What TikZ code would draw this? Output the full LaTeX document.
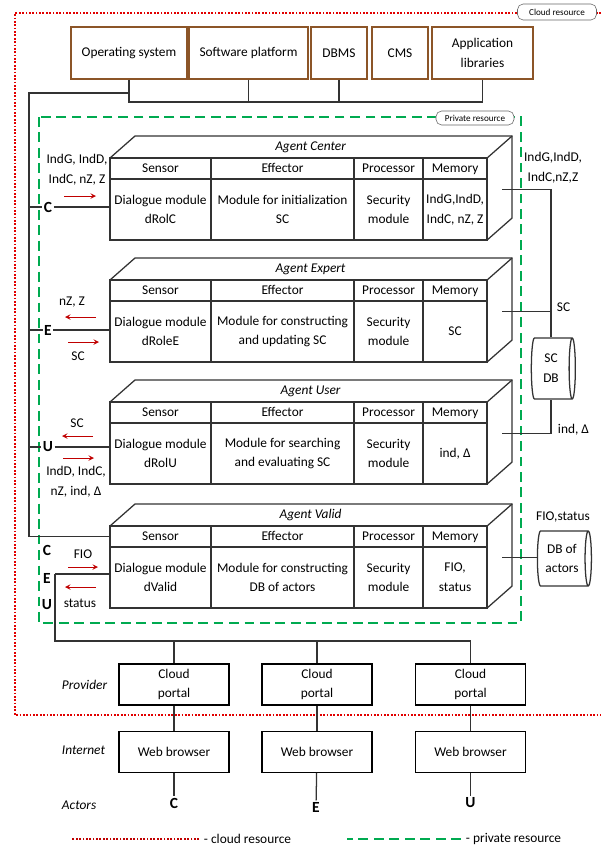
\documentclass[tikz,border=0pt]{standalone}
\usepackage{fontspec}
\setmainfont{Carlito}
\usepackage{tikz}
\usetikzlibrary{shapes.geometric, arrows, positioning, calc}
\definecolor{cloudred}{RGB}{225,0,0}
\definecolor{privgreen}{RGB}{0,170,80}
\definecolor{boxbrown}{RGB}{140,85,40}
\definecolor{arrowred}{RGB}{192,0,0}
\newcommand{\basefont}{\fontsize{9.5}{14}\selectfont}
\tikzstyle{soft} = [rectangle, minimum height=1.3cm, text centered, align=center, draw=boxbrown, line width=0.9pt, inner sep=1pt]
\tikzstyle{hcell} = [rectangle, minimum height=0.525cm, text height=7pt, text depth=2pt, inner sep=1pt, outer sep=0pt, draw=black!80, line width=0.9pt]
\tikzstyle{bcell} = [rectangle, minimum height=1.525cm, align=center, inner sep=1pt, outer sep=0pt, draw=black!80, line width=0.9pt]
\tikzstyle{portal} = [rectangle, minimum width=2.75cm, minimum height=1.025cm, align=center, draw=black, line width=0.9pt]
\tikzstyle{actor} = [font=\fontsize{11}{13}\selectfont\bfseries, inner sep=1pt]
\tikzstyle{rowname} = [anchor=west, font=\basefont\itshape]
\tikzstyle{restag} = [rectangle, rounded corners=4pt, draw=black!60, fill=white, font=\fontsize{6.5}{7}\selectfont, inner sep=1.5pt]
\tikzstyle{arrow} = [->, >=stealth, draw=arrowred, line width=0.7pt]
\tikzstyle{wire} = [draw=black!80, line width=0.9pt]
\tikzstyle{cloudframe} = [draw=cloudred, line width=1.2pt, dash pattern=on 1.2pt off 1.2pt]
\tikzstyle{privframe} = [draw=privgreen, line width=1.3pt, dash pattern=on 7pt off 4pt]
\tikzstyle{db} = [cylinder, aspect=0.2, draw=black!80, line width=0.9pt, align=center, inner sep=1pt]
% one agent: prefix, top y, title, sensor, effector, memory
\newcommand{\agentbox}[6]{%
  \node[hcell, minimum width=2.525cm, anchor=north west] (#1sen) at (110,#2) {Sensor};
  \node[hcell, minimum width=3.575cm, right=0pt of #1sen] (#1eff) {Effector};
  \node[hcell, minimum width=1.725cm, right=0pt of #1eff] (#1pro) {Processor};
  \node[hcell, minimum width=1.6cm, right=0pt of #1pro] (#1mem) {Memory};
  \node[bcell, minimum width=2.525cm, below=0pt of #1sen] (#1sen2) {#4};
  \node[bcell, minimum width=3.575cm, below=0pt of #1eff] (#1eff2) {#5};
  \node[bcell, minimum width=1.725cm, below=0pt of #1pro] (#1pro2) {Security\\module};
  \node[bcell, minimum width=1.6cm, below=0pt of #1mem] (#1mem2) {#6};
  \draw[wire] (#1sen.north west) -- ++(25,-22) -- ($(#1mem.north east)+(25,-22)$) -- ($(#1mem2.south east)+(25,-22)$) -- (#1mem2.south east);
  \draw[wire] ($(#1mem.north east)+(25,-22)$) -- (#1mem.north east);
  \node[font=\basefont\itshape] (#1title) at ($(#1sen.north west)!0.5!(#1mem.north east)+(12,-11)$) {#3};
  \coordinate (#1port) at ($(#1mem2.east)+(15,-20)$);
}

\begin{document}
\begin{tikzpicture}[x=0.025cm, y=-0.025cm, font=\basefont]
    \useasboundingbox (0,0) rectangle (601,848);
    % resource frames
    \draw[cloudframe] (601,13) -- (15,13) -- (15,715) -- (601,715);
    \draw[privframe] (39,117) rectangle (521,623);
    \node (cloudtag) [restag, minimum width=1.975cm, minimum height=0.4cm] at (557,12) {Cloud resource};
    \node (privtag) [restag, minimum width=1.95cm, minimum height=0.35cm] at (475,118) {Private resource};

    % software of the cloud
    \node (os) [soft, minimum width=2.9cm] at (129,53) {Operating system};
    \node (sp) [soft, minimum width=2.975cm] at (248.5,53) {Software platform};
    \node (dbms) [soft, minimum width=1.4cm] at (339,53) {DBMS};
    \node (cms) [soft, minimum width=1.4cm] at (400,53) {CMS};
    \node (app) [soft, minimum width=2.525cm] at (482.5,53) {Application\\libraries};
    \coordinate (bus) at (0,102);
    \draw[wire] (os.south) -- (os.south |- bus) -- (app.south |- bus) -- (app.south);
    \draw[wire] (sp.south) -- (sp.south |- bus);
    \draw[wire] (dbms.south) -- (dbms.south |- bus);

    % agents
    \agentbox{ac}{158}{Agent Center}{Dialogue module\\dRolC}{Module for initialization\\SC}{IndG,IndD,\\IndC, nZ, Z}
    \agentbox{ae}{280}{Agent Expert}{Dialogue module\\dRoleE}{Module for constructing\\and updating SC}{SC}
    \agentbox{au}{402}{Agent User}{Dialogue module\\dRolU}{Module for searching\\and evaluating SC}{ind, Δ}
    \agentbox{av}{526}{Agent Valid}{Dialogue module\\dValid}{Module for constructing\\DB of actors}{FIO,\\status}

    % left side: roles
    \coordinate (lft) at (29,93);
    \draw[wire] (os.south |- lft) -- (lft) |- (avsen.west);
    \node (lc) [actor] at (48,207) {C};
    \node (le) [actor] at (48,330) {E};
    \node (lu) [actor] at (48,447) {U};
    \draw[wire] (lft |- lc) -- (lc) -- (lc -| acsen2.west);
    \draw[wire] (lft |- le) -- (le) -- (le -| aesen2.west);
    \draw[wire] (lft |- lu) -- (lu) -- (lu -| ausen2.west);
    \node (inc) [align=center] at ($(lc)+(29,-37)$) {IndG, IndD,\\IndC, nZ, Z};
    \draw[arrow] ($(lc)+(16,-11)$) -- ++(32,0);
    \node (oute) at ($(le)+(24,-28)$) {nZ, Z};
    \draw[arrow] ($(le)+(48,-13)$) -- ++(-31,0);
    \draw[arrow] ($(le)+(20,12)$) -- ++(31,0);
    \node (ine) at ($(le)+(30,26)$) {SC};
    \node (outu) at ($(lu)+(29,-24)$) {SC};
    \draw[arrow] ($(lu)+(45,-11)$) -- ++(-31,0);
    \draw[arrow] ($(lu)+(15,11)$) -- ++(31,0);
    \node (inu) [align=center] at ($(lu)+(28,35)$) {IndD, IndC,\\nZ, ind, Δ};

    % left side: valid
    \node (vc) [actor] at (47,550) {C};
    \node (ve) [actor] at (47,578) {E};
    \node (vu) [actor] at (47,605) {U};
    \coordinate (vj) at (55,574);
    \draw[wire] (vj) -- (vj -| avsen2.west);
    \node (inv) at ($(vj)+(28,-20)$) {FIO};
    \draw[arrow] ($(vj)+(13,-7)$) -- ++(30,0);
    \draw[arrow] ($(vj)+(41,13)$) -- ++(-31,0);
    \node (outv) at ($(vj)+(25,29)$) {status};

    % right side: data bases
    \node (scdb) [db, minimum width=1.525cm, minimum height=1.1cm] at (551,368.5) {SC\\DB};
    \node (actdb) [db, minimum width=1.375cm, minimum height=1.35cm] at (562,558.5) {DB of\\actors};
    \draw[wire] (acport) -| (scdb.north);
    \draw[wire] (aeport) -- (aeport -| scdb.north);
    \draw[wire] (auport) -| (scdb.south);
    \draw[wire] (avport) -- (avport -| actdb.west);
    \node (lbc) [align=center] at (553,168) {IndG,IndD,\\IndC,nZ,Z};
    \node (lbe) [anchor=west] at (552,307) {SC};
    \node (lbu) [anchor=west] at (553,430) {ind, Δ};
    \node (lbv) at (563,517) {FIO,status};

    % provider, internet, actors
    \node (p1) [portal] at (174,684.5) {Cloud\\portal};
    \node (p2) [portal] at (317,684.5) {Cloud\\portal};
    \node (p3) [portal] at (470.5,684.5) {Cloud\\portal};
    \coordinate (bot) at (0,641);
    \draw[wire] (vj) |- (p3.north |- bot) -- (p3.north);
    \draw[wire] (p1.north |- bot) -- (p1.north);
    \draw[wire] (p2.north |- bot) -- (p2.north);
    \node (w1) [portal, below=0.625cm of p1] {Web browser};
    \node (w2) [portal, below=0.625cm of p2] {Web browser};
    \node (w3) [portal, below=0.625cm of p3] {Web browser};
    \node (xc) [actor] at (174,803) {C};
    \node (xe) [actor] at (316,807) {E};
    \node (xu) [actor] at (470.5,803) {U};
    \draw[wire] (p1) -- (w1);
    \draw[wire] (p2) -- (w2);
    \draw[wire] (p3) -- (w3);
    \draw[wire] (w1) -- (xc);
    \draw[wire] (w2) -- (xe);
    \draw[wire] (w3) -- (xu);
    \node (prov) [rowname] at (57,685) {Provider};
    \node (inet) [rowname] at (57,750) {Internet};
    \node (acts) [rowname] at (57,805) {Actors};

    % legend
    \node (lgc) [anchor=west] at (199,839) {- cloud resource};
    \draw[cloudframe, draw=arrowred] (lgc.west) -- ++(-128,0);
    \node (lgp) [anchor=west] at (461,839) {- private resource};
    \draw[privframe] (lgp.west) -- ++(-114,0);
\end{tikzpicture}
\end{document}
